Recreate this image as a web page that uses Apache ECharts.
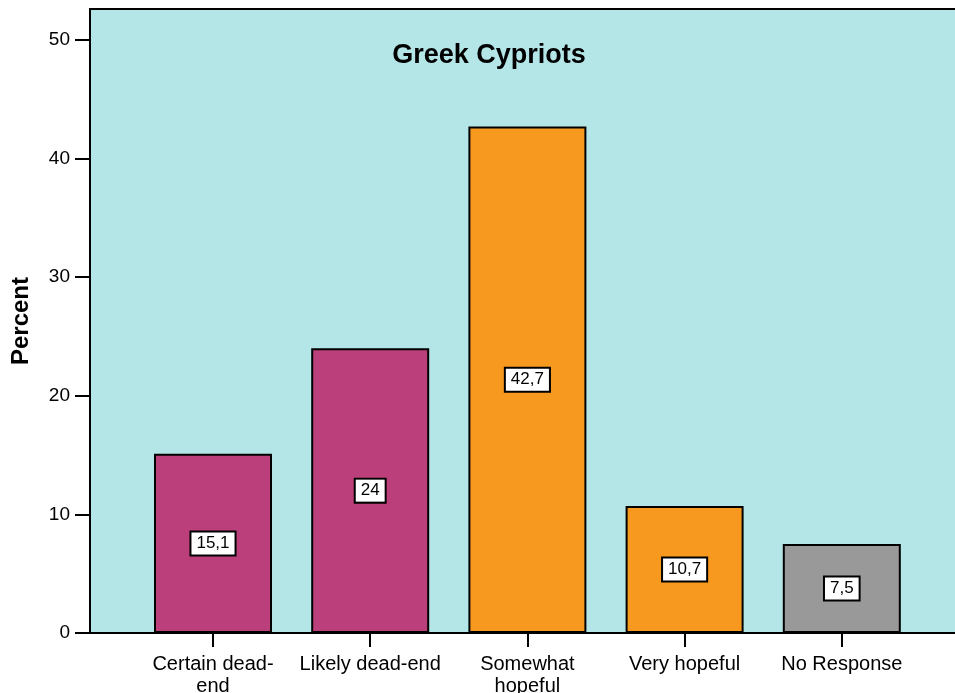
<!DOCTYPE html>
<html>
<head>
<meta charset="utf-8">
<script src="https://cdn.jsdelivr.net/npm/echarts@6/dist/echarts.min.js"></script>
<style>
  html, body { margin: 0; padding: 0; background: #ffffff; }
  #chart { width: 955px; height: 693px; }
</style>
</head>
<body>
<div id="chart"></div>
<script>
// Survey responses, Greek Cypriots (percent)
const categories = ['Certain dead-\nend', 'Likely dead-end', 'Somewhat\nhopeful', 'Very hopeful', 'No Response'];
const percents = [15.1, 24, 42.7, 10.7, 7.5];
const barColors = ['#BA3F7A', '#BA3F7A', '#F7991F', '#F7991F', '#999999'];
const yTicks = [0, 10, 20, 30, 40, 50];

const Y_MAX = 52.6;
const FONT = '"Liberation Sans", Arial, Helvetica, sans-serif';

const chart = echarts.init(document.getElementById('chart'), null, { renderer: 'canvas' });

chart.setOption({
  animation: false,
  backgroundColor: '#ffffff',
  title: {
    text: 'Greek Cypriots',
    left: 484,
    top: 37,
    textAlign: 'center',
    textStyle: { fontFamily: FONT, fontWeight: 'bold', fontSize: 27, color: '#000' }
  },
  grid: [
    {
      // plot frame with coloured background
      left: 90, right: -3, top: 9, bottom: 60,
      outerBoundsMode: 'none',
      containLabel: false,
      show: true,
      backgroundColor: '#B4E6E8',
      borderColor: '#000',
      borderWidth: 2
    },
    {
      // bar area
      left: 134.4, width: 786, top: 9, bottom: 60,
      outerBoundsMode: 'none',
      containLabel: false
    }
  ],
  xAxis: [
    {
      gridIndex: 0, type: 'value', min: 0, max: 1,
      axisLine: { show: true, lineStyle: { color: '#000', width: 2 } },
      axisTick: { show: false }, axisLabel: { show: false }, splitLine: { show: false }
    },
    {
      gridIndex: 1, type: 'category', data: categories,
      axisLine: { show: false },
      axisTick: { show: true, alignWithLabel: true, length: 14, lineStyle: { color: '#000', width: 2 } },
      axisLabel: {
        margin: 20, fontFamily: FONT, fontSize: 20, lineHeight: 22, color: '#000', interval: 0
      },
      splitLine: { show: false }
    }
  ],
  yAxis: [
    {
      gridIndex: 0, type: 'value', min: 0, max: Y_MAX, interval: 10,
      name: 'Percent',
      nameLocation: 'middle',
      nameGap: 57,
      nameMoveOverlap: false,
      nameTextStyle: {
        fontFamily: FONT,
        fontWeight: 'bold', fontSize: 24, color: '#000'
      },
      axisLine: { show: true, lineStyle: { color: '#000', width: 2 } },
      axisTick: { show: true, length: 15, customValues: yTicks, lineStyle: { color: '#000', width: 2 } },
      axisLabel: { margin: 20, fontFamily: FONT, fontSize: 19, color: '#000', customValues: yTicks },
      splitLine: { show: false }
    },
    {
      gridIndex: 1, type: 'value', min: 0, max: Y_MAX, show: false, splitLine: { show: false }
    }
  ],
  series: [
    {
      type: 'bar',
      xAxisIndex: 1,
      yAxisIndex: 1,
      barWidth: 118,
      data: percents.map((v, i) => ({ value: v, itemStyle: { color: barColors[i] } })),
      itemStyle: { borderColor: '#000', borderWidth: 2 },
      label: {
        show: true,
        position: 'inside',
        formatter: (p) => String(p.value).replace('.', ','),
        fontFamily: FONT,
        fontSize: 17,
        color: '#000',
        backgroundColor: '#fff',
        borderColor: '#000',
        borderWidth: 2,
        padding: [3, 5, 2, 5]
      }
    }
  ]
});
</script>
</body>
</html>
